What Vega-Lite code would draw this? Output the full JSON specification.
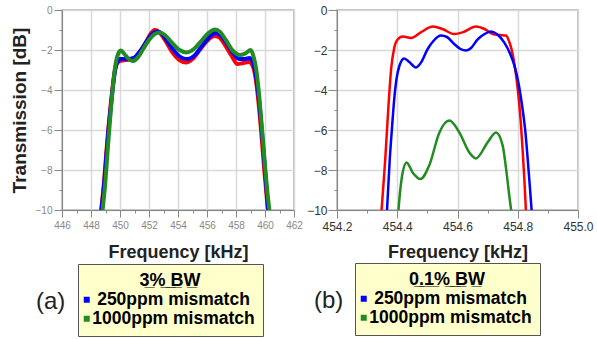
{
  "$schema": "https://vega.github.io/schema/vega-lite/v6.json",
  "padding": {"left": 9, "top": 3, "right": 0, "bottom": 0},
  "background": "white",
  "config": {
    "font": "Liberation Sans",
    "view": {"stroke": "#a8a8a8", "strokeWidth": 1.5}
  },
  "bounds": "flush",
  "spacing": 43,
  "resolve": {"scale": {"color": "independent"}, "legend": {"color": "independent"}},
  "hconcat": [
    {
      "width": 232,
      "height": 200,
      "title": {"text": "(a)", "orient": "bottom", "anchor": "start", "frame": "group", "fontSize": 24, "fontWeight": "normal", "color": "#222", "offset": -47, "dx": -26},
      "data": {"values": [
        {"f": 448.7, "db": -10, "s": "ideal"}, {"f": 448.9, "db": -8.6, "s": "ideal"}, {"f": 449.05, "db": -7.2, "s": "ideal"}, {"f": 449.2, "db": -5.9, "s": "ideal"}, {"f": 449.35, "db": -4.8, "s": "ideal"}, {"f": 449.5, "db": -3.8, "s": "ideal"}, {"f": 449.65, "db": -3.0, "s": "ideal"}, {"f": 449.8, "db": -2.65, "s": "ideal"}, {"f": 450.0, "db": -2.55, "s": "ideal"}, {"f": 450.4, "db": -2.5, "s": "ideal"}, {"f": 450.9, "db": -2.45, "s": "ideal"}, {"f": 451.3, "db": -2.15, "s": "ideal"}, {"f": 451.8, "db": -1.6, "s": "ideal"}, {"f": 452.1, "db": -1.2, "s": "ideal"}, {"f": 452.4, "db": -1.0, "s": "ideal"}, {"f": 452.7, "db": -1.1, "s": "ideal"}, {"f": 453.1, "db": -1.5, "s": "ideal"}, {"f": 453.6, "db": -2.1, "s": "ideal"}, {"f": 454.1, "db": -2.5, "s": "ideal"}, {"f": 454.55, "db": -2.62, "s": "ideal"}, {"f": 455.0, "db": -2.45, "s": "ideal"}, {"f": 455.5, "db": -2.0, "s": "ideal"}, {"f": 456.0, "db": -1.55, "s": "ideal"}, {"f": 456.5, "db": -1.3, "s": "ideal"}, {"f": 456.8, "db": -1.35, "s": "ideal"}, {"f": 457.2, "db": -1.7, "s": "ideal"}, {"f": 457.7, "db": -2.3, "s": "ideal"}, {"f": 458.1, "db": -2.7, "s": "ideal"}, {"f": 458.5, "db": -2.65, "s": "ideal"}, {"f": 458.9, "db": -2.6, "s": "ideal"}, {"f": 459.15, "db": -2.8, "s": "ideal"}, {"f": 459.35, "db": -3.4, "s": "ideal"}, {"f": 459.55, "db": -4.6, "s": "ideal"}, {"f": 459.75, "db": -6.2, "s": "ideal"}, {"f": 459.95, "db": -8.0, "s": "ideal"}, {"f": 460.2, "db": -10, "s": "ideal"},
        {"f": 448.72, "db": -10, "s": "250ppm mismatch"}, {"f": 448.92, "db": -8.6, "s": "250ppm mismatch"}, {"f": 449.07, "db": -7.2, "s": "250ppm mismatch"}, {"f": 449.22, "db": -5.9, "s": "250ppm mismatch"}, {"f": 449.37, "db": -4.8, "s": "250ppm mismatch"}, {"f": 449.52, "db": -3.8, "s": "250ppm mismatch"}, {"f": 449.67, "db": -3.0, "s": "250ppm mismatch"}, {"f": 449.82, "db": -2.6, "s": "250ppm mismatch"}, {"f": 450.0, "db": -2.45, "s": "250ppm mismatch"}, {"f": 450.5, "db": -2.45, "s": "250ppm mismatch"}, {"f": 450.95, "db": -2.4, "s": "250ppm mismatch"}, {"f": 451.4, "db": -2.05, "s": "250ppm mismatch"}, {"f": 451.9, "db": -1.5, "s": "250ppm mismatch"}, {"f": 452.3, "db": -1.15, "s": "250ppm mismatch"}, {"f": 452.6, "db": -1.08, "s": "250ppm mismatch"}, {"f": 452.9, "db": -1.2, "s": "250ppm mismatch"}, {"f": 453.3, "db": -1.6, "s": "250ppm mismatch"}, {"f": 453.8, "db": -2.1, "s": "250ppm mismatch"}, {"f": 454.3, "db": -2.4, "s": "250ppm mismatch"}, {"f": 454.65, "db": -2.45, "s": "250ppm mismatch"}, {"f": 455.1, "db": -2.3, "s": "250ppm mismatch"}, {"f": 455.6, "db": -1.85, "s": "250ppm mismatch"}, {"f": 456.1, "db": -1.4, "s": "250ppm mismatch"}, {"f": 456.55, "db": -1.15, "s": "250ppm mismatch"}, {"f": 456.9, "db": -1.25, "s": "250ppm mismatch"}, {"f": 457.3, "db": -1.6, "s": "250ppm mismatch"}, {"f": 457.8, "db": -2.15, "s": "250ppm mismatch"}, {"f": 458.2, "db": -2.45, "s": "250ppm mismatch"}, {"f": 458.6, "db": -2.45, "s": "250ppm mismatch"}, {"f": 458.95, "db": -2.4, "s": "250ppm mismatch"}, {"f": 459.2, "db": -2.7, "s": "250ppm mismatch"}, {"f": 459.4, "db": -3.4, "s": "250ppm mismatch"}, {"f": 459.6, "db": -4.6, "s": "250ppm mismatch"}, {"f": 459.8, "db": -6.2, "s": "250ppm mismatch"}, {"f": 460.0, "db": -8.0, "s": "250ppm mismatch"}, {"f": 460.22, "db": -10, "s": "250ppm mismatch"},
        {"f": 448.8, "db": -10, "s": "1000ppm mismatch"}, {"f": 449.0, "db": -8.5, "s": "1000ppm mismatch"}, {"f": 449.15, "db": -7.0, "s": "1000ppm mismatch"}, {"f": 449.3, "db": -5.6, "s": "1000ppm mismatch"}, {"f": 449.45, "db": -4.3, "s": "1000ppm mismatch"}, {"f": 449.6, "db": -3.2, "s": "1000ppm mismatch"}, {"f": 449.75, "db": -2.5, "s": "1000ppm mismatch"}, {"f": 449.9, "db": -2.15, "s": "1000ppm mismatch"}, {"f": 450.07, "db": -2.03, "s": "1000ppm mismatch"}, {"f": 450.3, "db": -2.2, "s": "1000ppm mismatch"}, {"f": 450.6, "db": -2.45, "s": "1000ppm mismatch"}, {"f": 450.87, "db": -2.55, "s": "1000ppm mismatch"}, {"f": 451.2, "db": -2.4, "s": "1000ppm mismatch"}, {"f": 451.6, "db": -1.95, "s": "1000ppm mismatch"}, {"f": 452.0, "db": -1.5, "s": "1000ppm mismatch"}, {"f": 452.4, "db": -1.2, "s": "1000ppm mismatch"}, {"f": 452.75, "db": -1.13, "s": "1000ppm mismatch"}, {"f": 453.1, "db": -1.25, "s": "1000ppm mismatch"}, {"f": 453.6, "db": -1.65, "s": "1000ppm mismatch"}, {"f": 454.1, "db": -2.0, "s": "1000ppm mismatch"}, {"f": 454.6, "db": -2.12, "s": "1000ppm mismatch"}, {"f": 455.1, "db": -1.95, "s": "1000ppm mismatch"}, {"f": 455.6, "db": -1.55, "s": "1000ppm mismatch"}, {"f": 456.1, "db": -1.15, "s": "1000ppm mismatch"}, {"f": 456.55, "db": -0.98, "s": "1000ppm mismatch"}, {"f": 456.9, "db": -1.1, "s": "1000ppm mismatch"}, {"f": 457.3, "db": -1.5, "s": "1000ppm mismatch"}, {"f": 457.8, "db": -2.05, "s": "1000ppm mismatch"}, {"f": 458.3, "db": -2.25, "s": "1000ppm mismatch"}, {"f": 458.7, "db": -2.15, "s": "1000ppm mismatch"}, {"f": 459.0, "db": -2.0, "s": "1000ppm mismatch"}, {"f": 459.2, "db": -2.3, "s": "1000ppm mismatch"}, {"f": 459.4, "db": -3.0, "s": "1000ppm mismatch"}, {"f": 459.6, "db": -4.3, "s": "1000ppm mismatch"}, {"f": 459.8, "db": -6.0, "s": "1000ppm mismatch"}, {"f": 460.0, "db": -7.8, "s": "1000ppm mismatch"}, {"f": 460.15, "db": -9.0, "s": "1000ppm mismatch"}, {"f": 460.3, "db": -10, "s": "1000ppm mismatch"}
      ]},
      "mark": {"type": "line", "interpolate": "monotone", "strokeWidth": 4, "clip": true},
      "encoding": {
        "x": {"field": "f", "type": "quantitative",
          "scale": {"domain": [446, 462], "nice": false, "zero": false},
          "axis": {"values": [446, 447, 448, 449, 450, 451, 452, 453, 454, 455, 456, 457, 458, 459, 460, 461, 462],
            "labelExpr": "datum.value % 2 == 0 ? datum.label : ''",
            "tickSize": {"condition": {"test": "datum.value % 2 == 0", "value": 7}, "value": 3},
            "grid": true,
            "gridColor": {"condition": {"test": "datum.value % 2 == 0", "value": "#d9d9d9"}, "value": "transparent"},
            "gridWidth": 1.5,
            "labelFontSize": 10, "labelColor": "#888", "labelPadding": 3, "labelOverlap": false, "labelFlush": false,
            "domainColor": "#888", "tickColor": "#888",
            "title": "Frequency [kHz]", "titleFontSize": 18, "titleFontWeight": "bold", "titleColor": "#222", "titlePadding": 13}},
        "y": {"field": "db", "type": "quantitative",
          "scale": {"domain": [-10, 0], "nice": false, "zero": false},
          "axis": {"values": [-10, -9, -8, -7, -6, -5, -4, -3, -2, -1, 0],
            "labelExpr": "abs(datum.value % 2) < 0.5 ? datum.label : ''",
            "tickSize": {"condition": {"test": "abs(datum.value % 2) < 0.5", "value": 8}, "value": 3},
            "grid": true,
            "gridColor": {"condition": {"test": "abs(datum.value % 2) < 0.5", "value": "#d9d9d9"}, "value": "transparent"},
            "gridWidth": 1.5,
            "labelFontSize": 10, "labelColor": "#888", "labelPadding": 2, "labelOverlap": false, "labelFlush": false,
            "domainColor": "#888", "tickColor": "#888",
            "title": "Transmission [dB]", "titleFontSize": 19, "titleFontWeight": "bold", "titleColor": "#222", "titlePadding": 6}},
        "color": {"field": "s", "type": "nominal",
          "scale": {"domain": ["ideal", "250ppm mismatch", "1000ppm mismatch"], "range": ["#ff0000", "#0000ff", "#228b22"]},
          "legend": {"title": "3\u0332%\u0332 \u0332B\u0332W\u0332", "orient": "none", "legendX": 16, "legendY": 254,
            "values": ["250ppm mismatch", "1000ppm mismatch"],
            "symbolType": "square", "symbolSize": 4, "symbolStrokeWidth": 4, "symbolOffset": -8,
            "labelFontSize": 17.5, "labelFontWeight": "bold", "labelColor": "#000", "labelAlign": "center", "labelOffset": 78, "labelLimit": 400,
            "titleFontSize": 18, "titleFontWeight": "bold", "titleColor": "#000", "titleAnchor": "middle", "titlePadding": 1,
            "fillColor": "#ffffcc", "strokeColor": "#555", "padding": 8, "rowPadding": 0}}
      }
    },
    {
      "width": 241,
      "height": 200,
      "title": {"text": "(b)", "orient": "bottom", "anchor": "start", "frame": "group", "fontSize": 24, "fontWeight": "normal", "color": "#222", "offset": -47, "dx": -23},
      "data": {"values": [
        {"f": 454.348, "db": -10, "s": "ideal"}, {"f": 454.36, "db": -7.5, "s": "ideal"}, {"f": 454.37, "db": -5.0, "s": "ideal"}, {"f": 454.38, "db": -2.9, "s": "ideal"}, {"f": 454.39, "db": -1.9, "s": "ideal"}, {"f": 454.4, "db": -1.5, "s": "ideal"}, {"f": 454.418, "db": -1.33, "s": "ideal"}, {"f": 454.446, "db": -1.4, "s": "ideal"}, {"f": 454.48, "db": -1.1, "s": "ideal"}, {"f": 454.518, "db": -0.82, "s": "ideal"}, {"f": 454.55, "db": -0.95, "s": "ideal"}, {"f": 454.589, "db": -1.2, "s": "ideal"}, {"f": 454.62, "db": -1.1, "s": "ideal"}, {"f": 454.661, "db": -0.82, "s": "ideal"}, {"f": 454.69, "db": -0.95, "s": "ideal"}, {"f": 454.717, "db": -1.2, "s": "ideal"}, {"f": 454.74, "db": -1.25, "s": "ideal"}, {"f": 454.761, "db": -1.28, "s": "ideal"}, {"f": 454.772, "db": -1.6, "s": "ideal"}, {"f": 454.78, "db": -2.0, "s": "ideal"}, {"f": 454.79, "db": -2.8, "s": "ideal"}, {"f": 454.8, "db": -3.95, "s": "ideal"}, {"f": 454.81, "db": -5.6, "s": "ideal"}, {"f": 454.816, "db": -6.95, "s": "ideal"}, {"f": 454.822, "db": -8.5, "s": "ideal"}, {"f": 454.827, "db": -10, "s": "ideal"},
        {"f": 454.366, "db": -10, "s": "250ppm mismatch"}, {"f": 454.375, "db": -7.5, "s": "250ppm mismatch"}, {"f": 454.383, "db": -5.8, "s": "250ppm mismatch"}, {"f": 454.39, "db": -4.45, "s": "250ppm mismatch"}, {"f": 454.398, "db": -3.4, "s": "250ppm mismatch"}, {"f": 454.407, "db": -2.8, "s": "250ppm mismatch"}, {"f": 454.423, "db": -2.42, "s": "250ppm mismatch"}, {"f": 454.44, "db": -2.6, "s": "250ppm mismatch"}, {"f": 454.462, "db": -2.87, "s": "250ppm mismatch"}, {"f": 454.48, "db": -2.6, "s": "250ppm mismatch"}, {"f": 454.501, "db": -1.95, "s": "250ppm mismatch"}, {"f": 454.52, "db": -1.55, "s": "250ppm mismatch"}, {"f": 454.545, "db": -1.28, "s": "250ppm mismatch"}, {"f": 454.565, "db": -1.35, "s": "250ppm mismatch"}, {"f": 454.589, "db": -1.7, "s": "250ppm mismatch"}, {"f": 454.61, "db": -1.95, "s": "250ppm mismatch"}, {"f": 454.628, "db": -2.03, "s": "250ppm mismatch"}, {"f": 454.645, "db": -1.9, "s": "250ppm mismatch"}, {"f": 454.667, "db": -1.47, "s": "250ppm mismatch"}, {"f": 454.69, "db": -1.2, "s": "250ppm mismatch"}, {"f": 454.711, "db": -1.08, "s": "250ppm mismatch"}, {"f": 454.73, "db": -1.2, "s": "250ppm mismatch"}, {"f": 454.755, "db": -1.62, "s": "250ppm mismatch"}, {"f": 454.775, "db": -2.2, "s": "250ppm mismatch"}, {"f": 454.789, "db": -2.78, "s": "250ppm mismatch"}, {"f": 454.803, "db": -3.7, "s": "250ppm mismatch"}, {"f": 454.816, "db": -4.95, "s": "250ppm mismatch"}, {"f": 454.826, "db": -6.2, "s": "250ppm mismatch"}, {"f": 454.833, "db": -7.45, "s": "250ppm mismatch"}, {"f": 454.84, "db": -8.8, "s": "250ppm mismatch"}, {"f": 454.846, "db": -10, "s": "250ppm mismatch"},
        {"f": 454.404, "db": -10, "s": "1000ppm mismatch"}, {"f": 454.41, "db": -9.0, "s": "1000ppm mismatch"}, {"f": 454.418, "db": -8.12, "s": "1000ppm mismatch"}, {"f": 454.431, "db": -7.62, "s": "1000ppm mismatch"}, {"f": 454.451, "db": -8.12, "s": "1000ppm mismatch"}, {"f": 454.477, "db": -8.45, "s": "1000ppm mismatch"}, {"f": 454.506, "db": -7.78, "s": "1000ppm mismatch"}, {"f": 454.54, "db": -6.12, "s": "1000ppm mismatch"}, {"f": 454.573, "db": -5.53, "s": "1000ppm mismatch"}, {"f": 454.606, "db": -6.12, "s": "1000ppm mismatch"}, {"f": 454.639, "db": -7.12, "s": "1000ppm mismatch"}, {"f": 454.661, "db": -7.42, "s": "1000ppm mismatch"}, {"f": 454.7, "db": -6.62, "s": "1000ppm mismatch"}, {"f": 454.728, "db": -6.12, "s": "1000ppm mismatch"}, {"f": 454.75, "db": -6.78, "s": "1000ppm mismatch"}, {"f": 454.764, "db": -8.28, "s": "1000ppm mismatch"}, {"f": 454.772, "db": -9.3, "s": "1000ppm mismatch"}, {"f": 454.778, "db": -10, "s": "1000ppm mismatch"}
      ]},
      "mark": {"type": "line", "interpolate": "monotone", "strokeWidth": 2.5, "clip": true},
      "encoding": {
        "x": {"field": "f", "type": "quantitative",
          "scale": {"domain": [454.2, 455.0], "nice": false, "zero": false},
          "axis": {"values": [454.2, 454.3, 454.4, 454.5, 454.6, 454.7, 454.8, 454.9, 455.0],
            "format": ".1f",
            "labelExpr": "round(datum.value * 10) % 2 == 0 ? datum.label : ''",
            "tickSize": {"condition": {"test": "round(datum.value * 10) % 2 == 0", "value": 8}, "value": 3},
            "grid": true,
            "gridColor": {"condition": {"test": "round(datum.value * 10) % 2 == 0", "value": "#d9d9d9"}, "value": "transparent"},
            "gridWidth": 1.5,
            "labelFontSize": 12, "labelColor": "#333", "labelPadding": 3, "labelOverlap": false, "labelFlush": false,
            "domainColor": "#888", "tickColor": "#888",
            "title": "Frequency [kHz]", "titleFontSize": 18, "titleFontWeight": "bold", "titleColor": "#222", "titlePadding": 11}},
        "y": {"field": "db", "type": "quantitative",
          "scale": {"domain": [-10, 0], "nice": false, "zero": false},
          "axis": {"values": [-10, -9, -8, -7, -6, -5, -4, -3, -2, -1, 0],
            "labelExpr": "abs(datum.value % 2) < 0.5 ? datum.label : ''",
            "tickSize": {"condition": {"test": "abs(datum.value % 2) < 0.5", "value": 9}, "value": 3},
            "grid": true,
            "gridColor": {"condition": {"test": "abs(datum.value % 2) < 0.5", "value": "#d9d9d9"}, "value": "transparent"},
            "gridWidth": 1.5,
            "labelFontSize": 12, "labelColor": "#333", "labelPadding": 1, "labelOverlap": false, "labelFlush": false,
            "domainColor": "#888", "tickColor": "#888",
            "title": null}},
        "color": {"field": "s", "type": "nominal",
          "scale": {"domain": ["ideal", "250ppm mismatch", "1000ppm mismatch"], "range": ["#ff0000", "#0000ff", "#228b22"]},
          "legend": {"title": "0\u0332.\u03321\u0332%\u0332 \u0332B\u0332W\u0332", "orient": "none", "legendX": 18, "legendY": 253,
            "values": ["250ppm mismatch", "1000ppm mismatch"],
            "symbolType": "square", "symbolSize": 4, "symbolStrokeWidth": 4, "symbolOffset": -8,
            "labelFontSize": 17.5, "labelFontWeight": "bold", "labelColor": "#000", "labelAlign": "center", "labelOffset": 78, "labelLimit": 400,
            "titleFontSize": 18, "titleFontWeight": "bold", "titleColor": "#000", "titleAnchor": "middle", "titlePadding": 1,
            "fillColor": "#ffffcc", "strokeColor": "#555", "padding": 8, "rowPadding": 0}}
      }
    }
  ]
}
